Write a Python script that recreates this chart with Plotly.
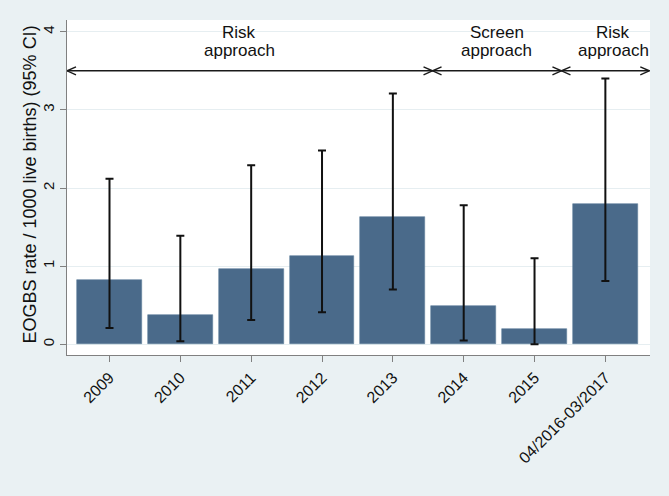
import plotly.graph_objects as go

categories = ["2009", "2010", "2011", "2012", "2013", "2014", "2015", "04/2016-03/2017"]
rates = [0.82, 0.38, 0.97, 1.13, 1.63, 0.49, 0.19, 1.79]
ci_low = [0.21, 0.04, 0.31, 0.41, 0.70, 0.05, 0.00, 0.81]
ci_high = [2.12, 1.39, 2.29, 2.48, 3.21, 1.78, 1.10, 3.40]

period_words = [("Risk", "approach"), ("Screen", "approach"), ("Risk", "approach")]
period_bounds = [-0.6, 4.56, 6.38, 7.62]
period_label_x = [1.83, 5.47, 7.11]
arrow_level = 3.5

y_ticks = [0, 1, 2, 3, 4]
y_title = "EOGBS rate / 1000 live births) (95% CI)"

BG = "#eaf1f3"
BAR = "#4a6a8a"
INK = "#111111"
AXC = "#808080"
FONT = "Arial, Liberation Sans, sans-serif"

xpos = list(range(len(categories)))
err_plus = [h - v for h, v in zip(ci_high, rates)]
err_minus = [v - l for v, l in zip(rates, ci_low)]

fig = go.Figure()
fig.add_trace(go.Bar(
    x=xpos, y=rates, width=0.914,
    marker=dict(color=BAR, line=dict(color="#5f7f9c", width=0.6)),
    error_y=dict(type="data", symmetric=False, array=err_plus, arrayminus=err_minus,
                 color=INK, thickness=2, width=4),
    showlegend=False, hoverinfo="skip",
))

shapes = []
annotations = []
for i, words in enumerate(period_words):
    a, b = period_bounds[i], period_bounds[i + 1]
    shapes.append(dict(type="line", xref="x", yref="y", x0=a, x1=b,
                       y0=arrow_level, y1=arrow_level,
                       line=dict(color="#1a1a1a", width=1.6)))
    # open chevron heads at both ends (pixel-sized, anchored at the bounds)
    shapes.append(dict(type="path", xref="x", yref="y", xsizemode="pixel", ysizemode="pixel",
                       xanchor=a, yanchor=arrow_level, path="M 9 4 L 0 0 L 9 -4",
                       line=dict(color="#1a1a1a", width=1.4)))
    shapes.append(dict(type="path", xref="x", yref="y", xsizemode="pixel", ysizemode="pixel",
                       xanchor=b, yanchor=arrow_level, path="M -9 4 L 0 0 L -9 -4",
                       line=dict(color="#1a1a1a", width=1.4)))
    for word, shift in zip(words, (27, 9)):
        annotations.append(dict(
            x=period_label_x[i], y=arrow_level, xref="x", yref="y",
            text=word, showarrow=False, xanchor="center", yanchor="bottom",
            yshift=shift, font=dict(family=FONT, size=17, color=INK),
        ))

# y-axis title (placed as a rotated annotation to sit close to the tick labels)
annotations.append(dict(
    x=0, y=0.5, xref="paper", yref="paper", text=y_title, textangle=-90,
    showarrow=False, xanchor="center", yanchor="middle", xshift=-38, yshift=3,
    font=dict(family=FONT, size=18, color=INK),
))

fig.update_layout(
    width=669, height=496,
    margin=dict(l=67, r=19, t=20, b=141),
    paper_bgcolor=BG, plot_bgcolor="#ffffff",
    font=dict(family=FONT, size=16, color=INK),
    bargap=0,
    shapes=shapes,
    annotations=annotations,
    xaxis=dict(
        range=[-0.6, 7.63], tickmode="array", tickvals=xpos, ticktext=categories,
        tickangle=-45, ticks="outside", ticklen=6, tickcolor=AXC, tickwidth=1.2,
        showline=True, linecolor=AXC, linewidth=1.2, showgrid=False, zeroline=False,
        tickfont=dict(family=FONT, size=16, color=INK), automargin=False,
    ),
    yaxis=dict(
        range=[-0.137, 4.15], tickmode="array", tickvals=y_ticks,
        ticktext=[str(t) for t in y_ticks], tickangle=-90,
        ticks="outside", ticklen=6, tickcolor=AXC, tickwidth=1.2,
        showline=True, linecolor=AXC, linewidth=1.2,
        showgrid=True, gridcolor="#e6eef1", gridwidth=1, zeroline=False,
        tickfont=dict(family=FONT, size=15, color=INK), automargin=False,
    ),
)

fig.write_html(
    "out.html",
    config={"displayModeBar": False},
    post_script="document.body.style.margin='0';document.body.style.background='" + BG + "';",
)
